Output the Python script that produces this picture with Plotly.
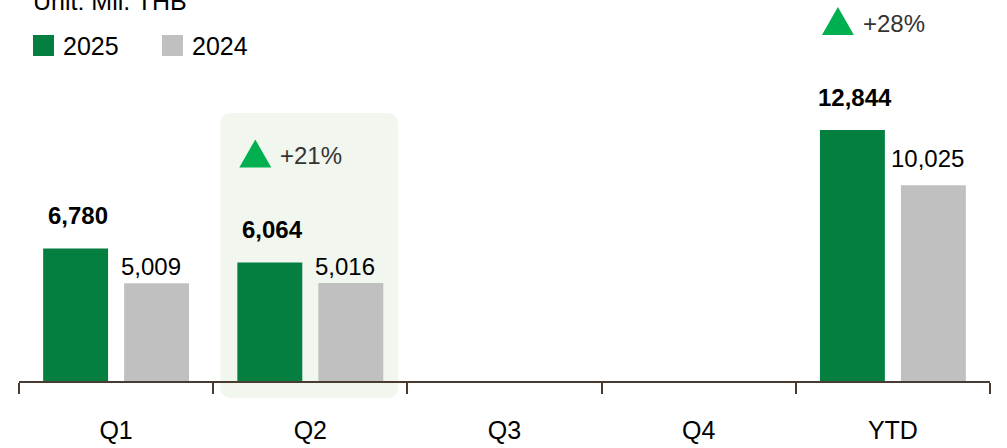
import plotly.graph_objects as go

categories = ["Q1", "Q2", "Q3", "Q4", "YTD"]
sales_2025 = [6780, 6064, None, None, 12844]
sales_2024 = [5009, 5016, None, None, 10025]
highlight = "Q2"
growth_at = ["Q2", "YTD"]

GREEN = "#047f40"
GREY = "#c0c0c0"
UP = "#00b050"
AXIS = "#4a3b30"
FONT = "Liberation Sans, Arial, Helvetica, sans-serif"

W, H = 1007, 448
L, R, T, B = 19, 17, 0, 67
PW, PH = W - L - R, H - T - B


def px(x):
    return (x - L) / PW


def py(y):
    return (H - B - y) / PH


fig = go.Figure()
fig.add_trace(go.Bar(x=categories, y=sales_2025, name="2025", marker_color=GREEN,
                     marker_line_width=0, showlegend=False))
fig.add_trace(go.Bar(x=categories, y=sales_2024, name="2024", marker_color=GREY,
                     marker_line_width=0, showlegend=False))

shapes = []
annotations = []

# highlighted quarter
r = 12
x0, x1, y0, y1 = -90, 88, -17, 268
hl_path = (f"M{x0 + r},{y0} L{x1 - r},{y0} Q{x1},{y0} {x1},{y0 + r} "
           f"L{x1},{y1 - r} Q{x1},{y1} {x1 - r},{y1} L{x0 + r},{y1} "
           f"Q{x0},{y1} {x0},{y1 - r} L{x0},{y0 + r} Q{x0},{y0} {x0 + r},{y0} Z")
shapes.append(dict(type="path", xref="x", yref="paper", xsizemode="pixel", ysizemode="pixel",
                   xanchor=highlight, yanchor=0, path=hl_path,
                   fillcolor="#f1f6ee", line_width=0, layer="below"))

# value labels
for i, c in enumerate(categories):
    if sales_2025[i] is not None:
        annotations.append(dict(x=c, y=sales_2025[i], text=f"<b>{sales_2025[i]:,}</b>",
                                showarrow=False, yanchor="middle", yshift=33, xshift=-38,
                                font=dict(size=24, color="#000", family=FONT)))
    if sales_2024[i] is not None:
        annotations.append(dict(x=c, y=sales_2024[i], text=f"{sales_2024[i]:,}",
                                showarrow=False, yanchor="middle",
                                yshift=27 if c == "YTD" else 17, xshift=35,
                                font=dict(size=24, color="#000", family=FONT)))

# growth markers
for c in growth_at:
    i = categories.index(c)
    g = round((sales_2025[i] / sales_2024[i] - 1) * 100)
    shapes.append(dict(type="path", xref="x", yref="y", xsizemode="pixel", ysizemode="pixel",
                       xanchor=c, yanchor=sales_2025[i],
                       path="M-71,95 L-39,95 L-55,123 Z",
                       fillcolor=UP, line_width=0))
    annotations.append(dict(x=c, y=sales_2025[i], text=f"+{g}%", showarrow=False,
                            xanchor="left", yanchor="middle", xshift=-32, yshift=107,
                            font=dict(size=24, color="#333", family=FONT)))

# legend
for lx, name, col in [(33, "2025", GREEN), (162, "2024", GREY)]:
    shapes.append(dict(type="rect", xref="paper", yref="paper",
                       x0=px(lx), x1=px(lx + 21), y0=py(56), y1=py(35),
                       fillcolor=col, line_width=0))
    annotations.append(dict(xref="paper", yref="paper", x=px(lx + 28), y=py(45.5),
                            text=name, showarrow=False, xanchor="left", yanchor="middle",
                            font=dict(size=25, color="#000", family=FONT)))

annotations.append(dict(xref="paper", yref="paper", x=px(31), y=py(1), text="Unit: Mil. THB",
                        showarrow=False, xanchor="left", yanchor="middle",
                        font=dict(size=25, color="#000", family=FONT)))

fig.update_layout(
    width=W, height=H,
    margin=dict(l=L, r=R, t=T, b=B),
    paper_bgcolor="white", plot_bgcolor="rgba(0,0,0,0)",
    barmode="group", bargap=0.166, bargroupgap=0.198,
    font=dict(family=FONT, color="#000"),
    shapes=shapes, annotations=annotations,
    xaxis=dict(type="category", categoryorder="array", categoryarray=categories,
               range=[-0.5, 4.5], showline=True, linecolor=AXIS, linewidth=1.5,
               ticks="outside", tickson="boundaries", ticklen=11, tickwidth=1.5,
               tickcolor=AXIS, tickfont=dict(size=25, color="#000"),
               ticklabelstandoff=26, showgrid=False, zeroline=False, fixedrange=True),
    yaxis=dict(range=[0, 19500], visible=False, fixedrange=True),
)

# page body margin would push the figure 8px off the window origin
fig.write_html("out.html", config={"displayModeBar": False},
               post_script="document.body.style.margin = '0';")
